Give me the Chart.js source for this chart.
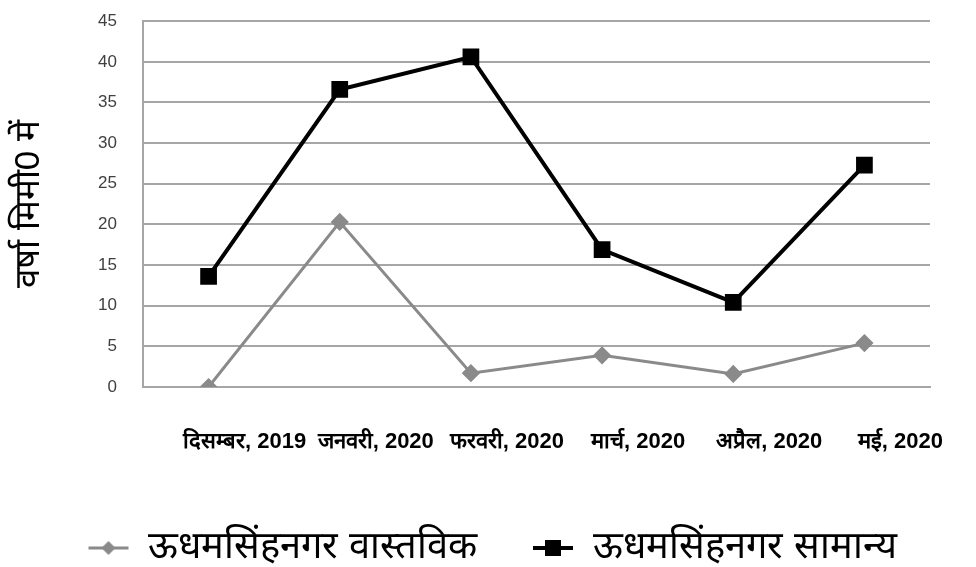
<!DOCTYPE html>
<html>
<head>
<meta charset="utf-8">
<script src="https://cdn.jsdelivr.net/npm/chart.js@4.4.1/dist/chart.umd.min.js"></script>
<style>
  html, body { margin: 0; padding: 0; background: #fff; }
  #wrap { width: 976px; height: 567px; }
</style>
</head>
<body>
<div id="wrap"><canvas id="myChart"></canvas></div>
<script>
const months = ["दिसम्बर, 2019", "जनवरी, 2020", "फरवरी, 2020", "मार्च, 2020", "अप्रैल, 2020", "मई, 2020"];
const actualRain = [0, 20.3, 1.7, 3.9, 1.6, 5.4];
const normalRain = [13.6, 36.6, 40.6, 16.9, 10.4, 27.3];
const yTicks = [0, 5, 10, 15, 20, 25, 30, 35, 40, 45];
const yTitle = "वर्षा मिमी0 में";
const seriesNames = ["ऊधमसिंहनगर वास्तविक", "ऊधमसिंहनगर सामान्य"];

const fontFam = "Liberation Sans Narrow, Liberation Sans, sans-serif";

// little line+marker pictures for the legend, like the excel ones
function legendIcon(color, square) {
  const c = document.createElement("canvas");
  c.width = 42;
  c.height = 18;
  const g = c.getContext("2d");
  g.strokeStyle = color;
  g.lineWidth = square ? 4 : 3;
  g.beginPath();
  g.moveTo(1, 9);
  g.lineTo(41, 9);
  g.stroke();
  g.fillStyle = color;
  if (square) {
    g.fillRect(13, 1, 16, 16);
  } else {
    g.beginPath();
    g.moveTo(21, 2);
    g.lineTo(28, 9);
    g.lineTo(21, 16);
    g.lineTo(14, 9);
    g.closePath();
    g.fill();
  }
  return c;
}

const ctx = document.getElementById("myChart").getContext("2d");
const myChart = new Chart(ctx, {
  type: "line",
  data: {
    labels: months,
    datasets: [
      {
        label: seriesNames[0],
        data: actualRain,
        borderColor: "#8a8a8a",
        backgroundColor: "#8a8a8a",
        borderWidth: 3,
        pointStyle: "rectRot",
        pointRadius: 7,
        pointHoverRadius: 7,
        tension: 0,
      },
      {
        label: seriesNames[1],
        data: normalRain,
        borderColor: "#000000",
        backgroundColor: "#000000",
        borderWidth: 4,
        pointStyle: "rect",
        pointRadius: 9,
        pointHoverRadius: 9,
        tension: 0,
      },
    ],
  },
  options: {
    responsive: true,
    maintainAspectRatio: false,
    animation: false,
    layout: { padding: { left: 8, right: 0, top: 2, bottom: -10 } },
    plugins: {
      tooltip: { enabled: false },
      legend: {
        position: "bottom",
        labels: {
          usePointStyle: true,
          pointStyleWidth: 42,
          boxHeight: 18,
          padding: 55,
          color: "#000",
          font: { family: fontFam, size: 38 },
          generateLabels: (chart) =>
            chart.data.datasets.map((ds, i) => ({
              text: ds.label,
              pointStyle: legendIcon(ds.borderColor, i === 1),
              fillStyle: ds.borderColor,
              strokeStyle: ds.borderColor,
              lineWidth: 0,
              hidden: false,
              datasetIndex: i,
            })),
        },
      },
    },
    scales: {
      x: {
        offset: true,
        grid: { display: false, drawTicks: true, tickLength: 38 },
        border: { display: true, color: "#a6a6a6", width: 2 },
        ticks: {
          autoSkip: false,
          maxRotation: 0,
          minRotation: 0,
          padding: 4,
          labelOffset: 36,
          color: "#000",
          font: { family: fontFam, size: 22, weight: "bold" },
        },
        afterFit: (scale) => {
          scale.height = 87;
        },
      },
      y: {
        min: 0,
        max: 45,
        afterBuildTicks: (scale) => {
          scale.ticks = yTicks.map((v) => ({ value: v }));
        },
        grid: { color: "#a6a6a6", lineWidth: 2, drawTicks: true, tickLength: 15, tickColor: "rgba(0,0,0,0)" },
        border: { display: true, color: "#a6a6a6", width: 2 },
        ticks: {
          padding: 11,
          color: "#404040",
          font: { family: fontFam, size: 17 },
        },
        title: {
          display: true,
          text: yTitle,
          color: "#000",
          padding: { top: 0, bottom: 0 },
          font: { family: fontFam, size: 35 },
        },
        afterFit: (scale) => {
          scale.width = 135;
        },
      },
      // empty axis on the right, only keeps the plot off the right edge
      yRight: {
        position: "right",
        min: 0,
        max: 45,
        grid: { display: false, drawTicks: false },
        border: { display: false },
        ticks: { display: false },
        afterFit: (scale) => {
          scale.width = 46;
        },
      },
    },
  },
});
</script>
</body>
</html>
